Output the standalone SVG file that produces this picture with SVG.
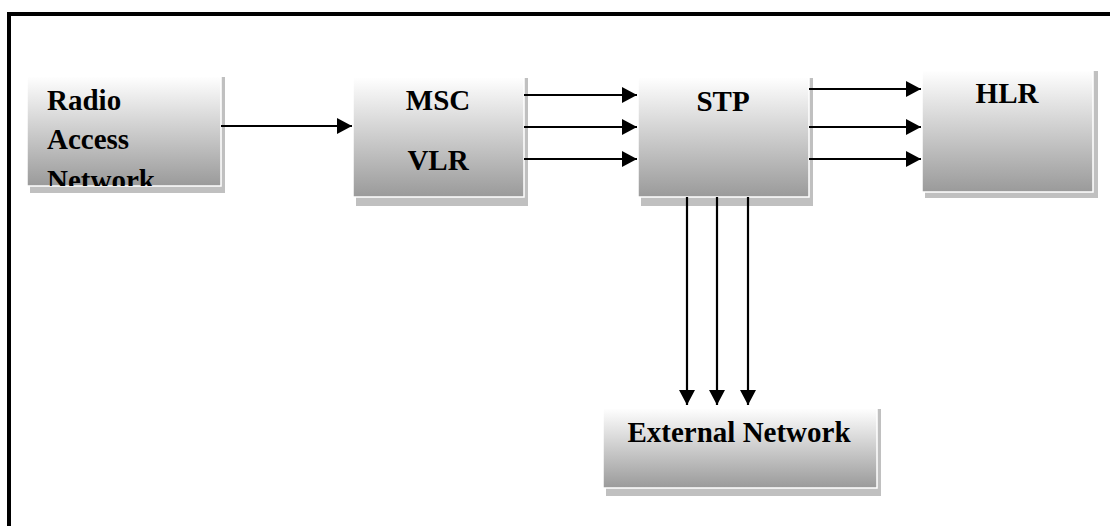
<svg xmlns="http://www.w3.org/2000/svg" width="1110" height="526" viewBox="0 0 1110 526">
  <defs>
    <linearGradient id="boxFill" x1="0" y1="0" x2="0" y2="1">
      <stop offset="0" stop-color="#ffffff"/>
      <stop offset="1" stop-color="#9a9a9a"/>
    </linearGradient>
    <marker id="arrow" viewBox="0 0 15 16" refX="15" refY="8" markerWidth="15" markerHeight="16" markerUnits="userSpaceOnUse" orient="auto">
      <path d="M0,0 L15,8 L0,16 Z" fill="#000"/>
    </marker>
    <clipPath id="ranClip">
      <rect x="27" y="76" width="194" height="110"/>
    </clipPath>
  </defs>
  <style>
    .shadow { fill: #c0c0c0; }
    .box { fill: url(#boxFill); stroke: #ffffff; stroke-width: 1.5; }
    .label { font-family: "Liberation Serif", "Times New Roman", serif; font-weight: bold; font-size: 29px; fill: #000; }
    .mid { text-anchor: middle; }
    .link { stroke: #000; stroke-width: 2.2; fill: none; marker-end: url(#arrow); }
  </style>

  <rect x="0" y="0" width="1110" height="526" fill="#ffffff"/>

  <!-- outer frame: top and left rules -->
  <path d="M9,526 V14 H1110" fill="none" stroke="#000" stroke-width="4"/>

  <g id="ran">
    <rect class="shadow" x="30" y="77" width="195" height="116"/>
    <rect class="box" x="27" y="76" width="194" height="110"/>
    <g clip-path="url(#ranClip)">
      <text class="label" x="47" y="110">Radio</text>
      <text class="label" x="47" y="149">Access</text>
      <text class="label" x="47" y="190">Network</text>
    </g>
  </g>

  <g id="msc-vlr">
    <rect class="shadow" x="356" y="78" width="172" height="128"/>
    <rect class="box" x="353" y="77" width="171" height="120"/>
    <text class="label mid" x="438" y="110">MSC</text>
    <text class="label mid" x="438" y="170">VLR</text>
  </g>

  <g id="stp">
    <rect class="shadow" x="641" y="78" width="172" height="128"/>
    <rect class="box" x="638" y="77" width="171" height="120"/>
    <text class="label mid" x="723" y="111">STP</text>
  </g>

  <g id="hlr">
    <rect class="shadow" x="925" y="71" width="173" height="127"/>
    <rect class="box" x="922" y="70" width="171" height="122"/>
    <text class="label mid" x="1007" y="103">HLR</text>
  </g>

  <g id="external-network">
    <rect class="shadow" x="606" y="409" width="275" height="87"/>
    <rect class="box" x="603" y="408" width="274" height="80"/>
    <text class="label mid" x="739" y="442">External Network</text>
  </g>

  <g id="connectors">
    <line class="link" x1="221" y1="126" x2="352" y2="126"/>
    <line class="link" x1="524" y1="95" x2="637" y2="95"/>
    <line class="link" x1="524" y1="127" x2="637" y2="127"/>
    <line class="link" x1="524" y1="159" x2="637" y2="159"/>
    <line class="link" x1="809" y1="89" x2="921" y2="89"/>
    <line class="link" x1="809" y1="127" x2="921" y2="127"/>
    <line class="link" x1="809" y1="159" x2="921" y2="159"/>
    <line class="link" x1="687" y1="197" x2="687" y2="405"/>
    <line class="link" x1="717" y1="197" x2="717" y2="405"/>
    <line class="link" x1="748" y1="197" x2="748" y2="405"/>
  </g>
</svg>
